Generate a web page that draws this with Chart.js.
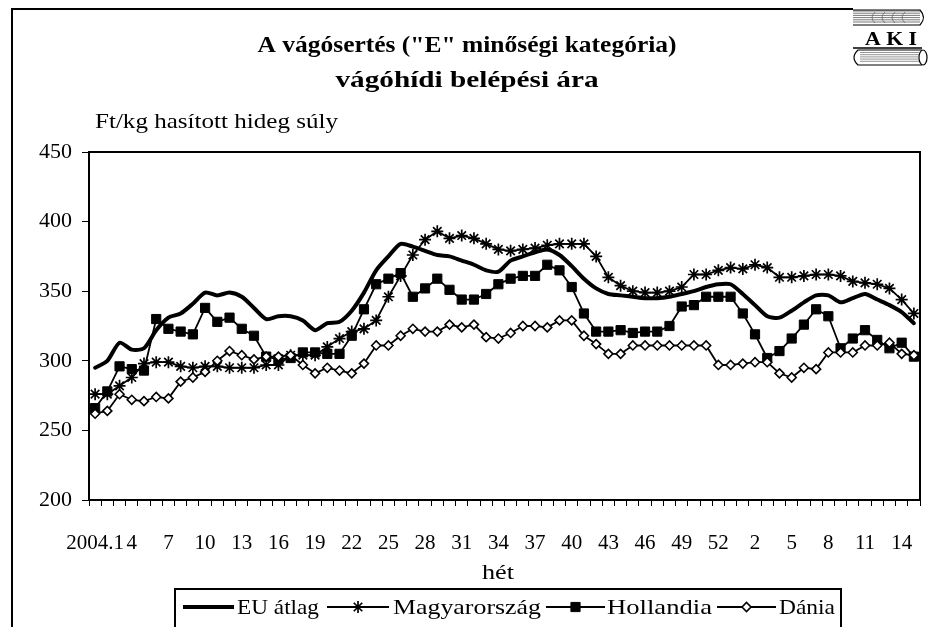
<!DOCTYPE html>
<html><head><meta charset="utf-8">
<script src="https://cdn.jsdelivr.net/npm/chart.js@4.4.1/dist/chart.umd.min.js"></script>
<style>html,body{margin:0;padding:0;background:#fff;}canvas{display:block;}</style>
</head><body>
<canvas id="c" width="928" height="627"></canvas>
<script>
// categories: 2004 weeks 1-53, 2005 weeks 1-15
const categories = ['2004.1','2','3','4','5','6','7','8','9','10','11','12','13','14','15','16','17','18','19','20',
  '21','22','23','24','25','26','27','28','29','30','31','32','33','34','35','36','37','38','39','40',
  '41','42','43','44','45','46','47','48','49','50','51','52','53',
  '2005.1','2','3','4','5','6','7','8','9','10','11','12','13','14','15'];
const tickLabels = ['2004.1','4','7','10','13','16','19','22','25','28','31','34','37','40','43','46','49','52','2','5','8','11','14'];
const yTicks = [200, 250, 300, 350, 400, 450];
const seriesNames = ['EU átlag', 'Magyarország', 'Hollandia', 'Dánia'];

const euAtlag = [295,300,313,308,309,322,331,334,341,349,
  347,349,346,338,330,332,332,329,322,327,
  328,336,349,365,375,384,382,379,376,375,
  372,369,365,364,372,375,378,380,376,368,
  359,352,348,347,346,345,345,346,348,350,
  353,355,355,348,340,332,331,336,342,347,
  347,342,345,348,344,340,335,327];
const magyarorszag = [276,276,282,288,298,299,299,296,295,296,
  296,295,295,295,297,297,304,304,304,310,
  316,321,323,329,346,361,376,387,393,388,
  390,388,384,380,379,380,381,383,384,384,
  384,375,360,354,350,349,349,350,353,362,
  362,365,367,366,369,367,360,360,361,362,
  362,361,357,356,355,352,344,334];
const hollandia = [266,278,296,294,293,330,323,321,319,338,
  328,331,323,318,303,301,302,306,306,305,
  305,318,337,355,359,363,346,352,359,351,
  344,344,348,355,359,361,361,369,365,353,
  334,321,321,322,320,321,321,325,339,340,
  346,346,346,334,319,302,307,316,326,337,
  332,309,316,322,315,309,313,303];
const dania = [262,264,276,272,271,274,273,285,288,292,
  300,307,304,301,303,303,304,297,291,295,
  293,291,298,311,311,318,323,321,321,326,
  324,326,317,316,320,325,325,324,329,329,
  318,312,305,305,311,311,311,311,311,311,
  311,297,297,298,299,299,291,288,295,294,
  306,306,306,311,311,313,305,304];

const SERIF = '"Liberation Serif","Times New Roman",serif';

const styles = [
  {borderWidth: 4, pointStyle: false, radius: 0, fill: '#000', tension: 0.25},
  {borderWidth: 1.8, pointStyle: 'star', radius: 6, fill: '#000', pbw: 1.7, tension: 0},
  {borderWidth: 1.8, pointStyle: 'rect', radius: 6.5, fill: '#000', pbw: 1, tension: 0},
  {borderWidth: 1.8, pointStyle: 'rectRot', radius: 4.5, fill: '#fff', pbw: 1.6, tension: 0}
];
const seriesData = [euAtlag, magyarorszag, hollandia, dania];

function txt(ctx, s, x, y, font, align, targetW) {
  ctx.save();
  ctx.font = font;
  ctx.fillStyle = '#000';
  ctx.textBaseline = 'alphabetic';
  const w = ctx.measureText(s).width;
  const k = targetW ? targetW / w : 1;
  let x0 = x;
  if (align === 'center') x0 = x - w * k / 2;
  else if (align === 'right') x0 = x - w * k;
  ctx.translate(x0, y);
  ctx.scale(k, 1);
  ctx.textAlign = 'left';
  ctx.fillText(s, 0, 0);
  ctx.restore();
}

const decor = {
  id: 'decor',
  afterDraw(chart) {
    const ctx = chart.ctx;
    const a = chart.chartArea;
    ctx.save();
    ctx.strokeStyle = '#000';
    ctx.lineWidth = 2;
    ctx.strokeRect(a.left, a.top, a.right - a.left, a.bottom - a.top);
    // outer frame
    ctx.beginPath();
    ctx.moveTo(12, 640); ctx.lineTo(12, 9); ctx.lineTo(853, 9);
    ctx.stroke();
    ctx.restore();

    // titles
    txt(ctx, 'A vágósertés ("E" minőségi kategória)', 467, 52, 'bold 24px ' + SERIF, 'center', 419);
    txt(ctx, 'vágóhídi belépési ára', 467, 87, 'bold 24px ' + SERIF, 'center', 263);
    txt(ctx, 'Ft/kg hasított hideg súly', 95, 128, '21px ' + SERIF, 'left', 243);
    txt(ctx, 'hét', 498, 579, '21px ' + SERIF, 'center', 32);

    // legend
    ctx.save();
    ctx.strokeStyle = '#000';
    ctx.lineWidth = 2;
    ctx.strokeRect(175, 589, 666, 60);
    const ly = 607;
    const items = [
      {x1: 183, x2: 234, tx: 237, tw: 82},
      {x1: 327, x2: 389, tx: 393, tw: 148},
      {x1: 546, x2: 605, tx: 607, tw: 105},
      {x1: 717, x2: 776, tx: 779, tw: 56}
    ];
    items.forEach((it, i) => {
      const st = styles[i];
      ctx.beginPath();
      ctx.lineWidth = st.borderWidth;
      ctx.strokeStyle = '#000';
      ctx.moveTo(it.x1, ly); ctx.lineTo(it.x2, ly);
      ctx.stroke();
      if (st.pointStyle) {
        ctx.fillStyle = st.fill;
        ctx.strokeStyle = '#000';
        ctx.lineWidth = st.pbw;
        Chart.helpers.drawPoint(ctx, {pointStyle: st.pointStyle, radius: st.radius, borderWidth: st.pbw, rotation: 0}, (it.x1 + it.x2) / 2, ly);
      }
      txt(ctx, seriesNames[i], it.tx, ly + 7, '21px ' + SERIF, 'left', it.tw);
    });
    ctx.restore();

    // AKI logo
    ctx.save();
    ctx.strokeStyle = '#555';
    ctx.lineWidth = 0.8;
    for (let yy = 11; yy <= 24; yy += 2.2) {
      ctx.beginPath(); ctx.moveTo(853, yy); ctx.lineTo(920, yy); ctx.stroke();
    }
    ctx.strokeStyle = '#000';
    ctx.lineWidth = 1.2;
    ctx.beginPath(); ctx.moveTo(853, 10); ctx.lineTo(920, 10);
    ctx.quadraticCurveTo(927, 17.5, 920, 25); ctx.lineTo(853, 25); ctx.stroke();
    ctx.lineWidth = 0.8;
    ctx.strokeStyle = '#666';
    for (let k = 0; k < 4; k++) {
      const bx = 875 + k * 10;
      ctx.beginPath(); ctx.moveTo(bx, 12); ctx.quadraticCurveTo(bx - 6, 17.5, bx, 23); ctx.stroke();
    }
    txt(ctx, 'A K I', 891, 45, 'bold 19px ' + SERIF, 'center', 52);
    ctx.strokeStyle = '#000';
    ctx.lineWidth = 1.5;
    ctx.beginPath(); ctx.moveTo(853, 48); ctx.lineTo(922, 48); ctx.stroke();
    ctx.lineWidth = 1.2;
    ctx.beginPath();
    ctx.moveTo(922, 50); ctx.lineTo(858, 50);
    ctx.quadraticCurveTo(850, 57.5, 858, 65); ctx.lineTo(922, 65); ctx.stroke();
    ctx.beginPath(); ctx.ellipse(923, 57.5, 4, 7.5, 0, 0, Math.PI * 2); ctx.stroke();
    ctx.strokeStyle = '#666'; ctx.lineWidth = 0.7;
    for (let yy = 52.5; yy <= 63; yy += 2.2) {
      ctx.beginPath(); ctx.moveTo(860, yy); ctx.lineTo(919, yy); ctx.stroke();
    }
    ctx.restore();
  }
};

const datasets = seriesNames.map((name, i) => {
  const st = styles[i];
  return {
    label: name,
    data: seriesData[i],
    borderColor: '#000',
    borderWidth: st.borderWidth,
    backgroundColor: st.fill,
    pointStyle: st.pointStyle || 'circle',
    pointRadius: st.radius,
    pointBorderWidth: st.pbw || 0,
    pointBackgroundColor: st.fill,
    pointBorderColor: '#000',
    tension: st.tension,
    fill: false,
    borderJoinStyle: 'round',
    borderCapStyle: 'round',
    order: 4 - i
  };
});

new Chart(document.getElementById('c').getContext('2d'), {
  type: 'line',
  data: {labels: categories, datasets},
  options: {
    responsive: false,
    devicePixelRatio: 1,
    animation: false,
    events: [],
    layout: {padding: {top: 152, right: 8, left: 0, bottom: 0}},
    plugins: {legend: {display: false}, title: {display: false}, tooltip: {enabled: false}},
    scales: {
      x: {
        type: 'category',
        offset: true,
        grid: {display: true, drawOnChartArea: false, drawTicks: true, tickLength: 6, color: '#000', lineWidth: 1, offset: true},
        border: {display: true, color: '#000', width: 2},
        ticks: {
          autoSkip: false, maxRotation: 0, minRotation: 0, padding: 25, color: '#000',
          font: {family: SERIF, size: 21},
          callback: (v, idx) => (idx % 3 === 0 ? tickLabels[idx / 3] : '')
        },
        afterFit: s => { s.height = 127; s.paddingLeft = 0; s.paddingRight = 0; }
      },
      y: {
        min: yTicks[0], max: yTicks[yTicks.length - 1],
        afterBuildTicks: s => { s.ticks = yTicks.map(v => ({value: v})); },
        grid: {display: true, drawOnChartArea: false, drawTicks: true, tickLength: 7, color: '#000', lineWidth: 1},
        border: {display: true, color: '#000', width: 2},
        ticks: {padding: 10, color: '#000', font: {family: SERIF, size: 22}},
        afterFit: s => { s.width = 89; s.paddingTop = 0; s.paddingBottom = 0; }
      }
    }
  },
  plugins: [decor]
});
</script>
</body></html>
